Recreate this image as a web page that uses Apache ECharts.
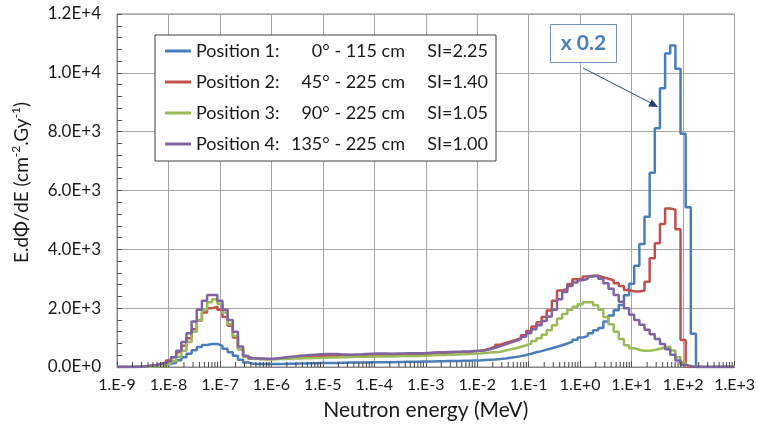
<!DOCTYPE html>
<html>
<head>
<meta charset="utf-8">
<script src="https://cdn.jsdelivr.net/npm/echarts@6/dist/echarts.min.js"></script>
<style>
  html, body { margin: 0; padding: 0; background: #fff; }
  #chart { width: 758px; height: 436px; }
</style>
</head>
<body>
<div id="chart"></div>
<script>
// bins: 10 per decade, bin j starts at 10^(-8.95 + j/10) MeV
const binStartExp = -8.95;
const binsPerDecade = 10;

const seriesNames = ['Position 1', 'Position 2', 'Position 3', 'Position 4'];
const legendRows = [
  ['Position 1:', '0° - 115 cm', 'SI=2.25'],
  ['Position 2:', '45° - 225 cm', 'SI=1.40'],
  ['Position 3:', '90° - 225 cm', 'SI=1.05'],
  ['Position 4:', '135° - 225 cm', 'SI=1.00']
];
const colors = ['#4a7ebb', '#c0504d', '#9bbb59', '#8064a2'];

// Position 1 (already scaled x 0.2)
const pos1 = [
  0, 0, 0, 5, 10, 15, 25, 40, 60, 100,
  150, 230, 330, 450, 570, 680, 750, 780, 780, 720,
  620, 500, 380, 250, 150, 110, 100, 100, 100, 100,
  105, 105, 110, 110, 115, 120, 125, 130, 135, 135,
  140, 140, 145, 145, 150, 150, 155, 155, 160, 160,
  160, 165, 165, 170, 170, 175, 175, 180, 185, 185,
  190, 195, 195, 200, 200, 205, 210, 215, 220, 225,
  235, 245, 255, 270, 290, 315, 340, 370, 410, 450,
  500, 540, 590, 640, 690, 740, 800, 860, 930, 1000,
  1060, 1150, 1250, 1330, 1550, 1750, 1930, 2110, 2440, 2830,
  3440, 4180, 5110, 6600, 8120, 9480, 10660, 10930, 10140, 7930,
  5430, 1130, 0, 0, 0, 0, 0, 0, 0, 0
];
const pos2 = [
  0, 0, 0, 10, 20, 40, 60, 90, 150, 220,
  330, 500, 720, 980, 1280, 1580, 1850, 2000, 2050, 1950,
  1700, 1400, 1000, 600, 350, 290, 280, 270, 265, 270,
  280, 290, 300, 320, 340, 350, 360, 370, 375, 380,
  385, 385, 380, 380, 385, 390, 395, 400, 405, 405,
  410, 410, 415, 415, 420, 420, 425, 428, 430, 440,
  450, 460, 470, 480, 490, 500, 510, 520, 535, 550,
  580, 630, 690, 760, 820, 870, 920, 980, 1080, 1220,
  1380, 1520, 1700, 1920, 2250, 2600, 2650, 2820, 2980, 3000,
  3080, 3100, 3100, 3050, 3000, 2950, 2850, 2750, 2620, 2570,
  2570, 2600, 2900, 3700, 4210, 4860, 5390, 5350, 4680, 920,
  0, 0, 0, 0, 0, 0, 0, 0, 0, 0
];
const pos3 = [
  0, 0, 0, 0, 5, 10, 20, 40, 70, 120,
  200, 350, 550, 850, 1200, 1600, 1950, 2200, 2300, 2150,
  1850, 1450, 1050, 600, 350, 280, 270, 265, 265, 265,
  270, 275, 280, 285, 290, 295, 300, 305, 310, 315,
  320, 325, 330, 335, 340, 345, 345, 350, 350, 355,
  355, 360, 360, 365, 370, 370, 375, 375, 380, 390,
  400, 405, 410, 415, 420, 425, 430, 440, 450, 460,
  475, 490, 505, 520, 560, 600, 640, 690, 740, 800,
  880, 980, 1100, 1250, 1420, 1650, 1800, 1950, 2050, 2130,
  2200, 2200, 2100, 1950, 1700, 1450, 1200, 950, 740, 640,
  580, 555, 555, 580, 620, 670, 690, 560, 330, 150,
  40, 0, 0, 0, 0, 0, 0, 0, 0, 0
];
const pos4 = [
  0, 0, 5, 10, 20, 40, 60, 100, 150, 200,
  330, 550, 850, 1150, 1550, 1950, 2250, 2450, 2450, 2250,
  1950, 1600, 1200, 700, 380, 300, 290, 285, 280, 280,
  300, 320, 340, 360, 380, 395, 410, 420, 430, 440,
  445, 440, 430, 425, 420, 425, 430, 440, 450, 455,
  460, 455, 450, 455, 460, 465, 470, 470, 470, 480,
  490, 500, 505, 510, 515, 520, 525, 530, 540, 550,
  565, 600, 650, 710, 770, 830, 890, 950, 1030, 1150,
  1280, 1420, 1560, 1720, 1950, 2300, 2550, 2750, 2870, 2950,
  3000, 3080, 3100, 3000, 2850, 2660, 2450, 2220, 2000, 1780,
  1600, 1440, 1270, 1110, 950, 780, 600, 420, 220, 80,
  20, 0, 0, 0, 0, 0, 0, 0, 0, 0
];
const allSeries = [pos1, pos2, pos3, pos4];

const xMin = 1e-9, xMax = 1e3;

const FONT = 'Lato';
const TEXT = '#1a1a1a';

// histogram as step line: each bin value held from its lower edge to the next edge
function toSteps(vals) {
  const pts = [[xMin, vals[0]]];
  vals.forEach((v, j) => {
    pts.push([Math.pow(10, binStartExp + j / binsPerDecade), v]);
  });
  pts.push([xMax, 0]);
  return pts;
}

// log minor ticks 2..9 for every decade
const minorTicks = [];
for (let e = -9; e < 3; e++) {
  for (let m = 2; m <= 9; m++) minorTicks.push([m * Math.pow(10, e), 0]);
}

function fmtX(v) {
  const e = Math.round(Math.log10(v));
  return '1.E' + (e >= 0 ? '+' : '') + e;
}
function fmtY(v) {
  if (v === 0) return '0.0E+0';
  const e = Math.floor(Math.log10(v) + 1e-9);
  return (v / Math.pow(10, e)).toFixed(1) + 'E+' + e;
}

const chart = echarts.init(document.getElementById('chart'));

const lineSeries = allSeries.map((vals, i) => ({
  name: seriesNames[i],
  type: 'line',
  step: 'end',
  showSymbol: false,
  data: toSteps(vals),
  lineStyle: { width: 2.5, color: colors[i] },
  itemStyle: { color: colors[i] },
  z: 3 + i
}));

const option = {
  animation: false,
  textStyle: { fontFamily: FONT },
  grid: {
    left: 117, right: 21, top: 14, bottom: 69,
    show: true, borderColor: '#868686', borderWidth: 1
  },
  legend: {
    data: seriesNames,
    orient: 'vertical',
    left: 155, top: 35,
    backgroundColor: '#fff',
    borderColor: '#404040', borderWidth: 1,
    padding: [7, 8, 8, 10],
    itemGap: 13,
    itemWidth: 26, itemHeight: 3,
    icon: 'rect',
    selectedMode: false,
    formatter: name => {
      const r = legendRows[seriesNames.indexOf(name)];
      return '{a|' + r[0] + '}{b|' + r[1] + '}{c|' + r[2] + '}';
    },
    textStyle: {
      fontFamily: FONT, fontSize: 18, color: TEXT,
      rich: {
        a: { fontFamily: FONT, fontSize: 18, color: TEXT, width: 90, lineHeight: 20 },
        b: { fontFamily: FONT, fontSize: 18, color: TEXT, width: 119, align: 'right', lineHeight: 20 },
        c: { fontFamily: FONT, fontSize: 18, color: TEXT, width: 83, align: 'right', lineHeight: 20 }
      }
    }
  },
  xAxis: {
    type: 'log', logBase: 10, min: xMin, max: xMax, interval: 1,
    name: 'Neutron energy (MeV)',
    nameLocation: 'middle', nameGap: 33,
    nameTextStyle: { fontFamily: FONT, fontSize: 21, color: TEXT },
    axisLine: { lineStyle: { color: '#868686', width: 1 } },
    axisTick: { show: true, inside: true, length: 6, lineStyle: { color: '#555' } },
    axisLabel: { formatter: fmtX, fontFamily: FONT, fontSize: 16, color: TEXT, margin: 10 },
    splitLine: { show: true, lineStyle: { color: '#a6a6a6', width: 1 } }
  },
  yAxis: {
    type: 'value', min: 0, max: 12000, interval: 2000,
    name: '{n|E.dΦ/dE (cm}{s|-2}{n|.Gy}{s|-1}{n|)}',
    nameLocation: 'middle', nameGap: 84,
    nameTextStyle: {
      padding: [0, 0, 0, 16],
      rich: {
        n: { fontFamily: FONT, fontSize: 19, color: TEXT, lineHeight: 23 },
        s: { fontFamily: FONT, fontSize: 12, color: TEXT, lineHeight: 13, verticalAlign: 'top' }
      }
    },
    axisLine: { show: true, lineStyle: { color: '#868686', width: 1 } },
    axisTick: { show: true, inside: true, length: 5, lineStyle: { color: '#555' } },
    minorTick: { show: true, splitNumber: 5, length: 5, lineStyle: { color: '#555' } },
    axisLabel: { formatter: v => fmtY(v), fontFamily: FONT, fontSize: 17, color: TEXT, margin: 16 },
    splitLine: { show: true, lineStyle: { color: '#a6a6a6', width: 1 } }
  },
  graphic: [
    {
      type: 'rect', z: 100,
      shape: { x: 550.5, y: 24.5, width: 66, height: 38 },
      style: { fill: '#fff', stroke: '#6f8fbf', lineWidth: 1 }
    },
    {
      type: 'text', z: 101, x: 583.5, y: 43.5,
      style: {
        text: 'x 0.2', fill: '#4a7ebb', fontFamily: FONT, fontWeight: 'bold',
        fontSize: 21, align: 'center', verticalAlign: 'middle'
      }
    },
    {
      type: 'line', z: 101,
      shape: { x1: 583, y1: 68, x2: 651, y2: 103 },
      style: { stroke: '#2c4d7a', lineWidth: 1 }
    },
    {
      type: 'polygon', z: 101,
      shape: { points: [[658, 107], [648.2, 106.4], [651.9, 99.3]] },
      style: { fill: '#1f3d6b' }
    }
  ],
  series: lineSeries.concat([{
    type: 'custom',
    name: 'minor',
    coordinateSystem: 'cartesian2d',
    silent: true,
    clip: false,
    z: 10,
    data: minorTicks,
    renderItem: (params, api) => {
      const p = api.coord([api.value(0), 0]);
      return {
        type: 'line',
        shape: { x1: p[0], y1: p[1], x2: p[0], y2: p[1] - 5 },
        style: { stroke: '#444', lineWidth: 1 }
      };
    }
  }])
};

chart.setOption(option);
</script>
</body>
</html>
